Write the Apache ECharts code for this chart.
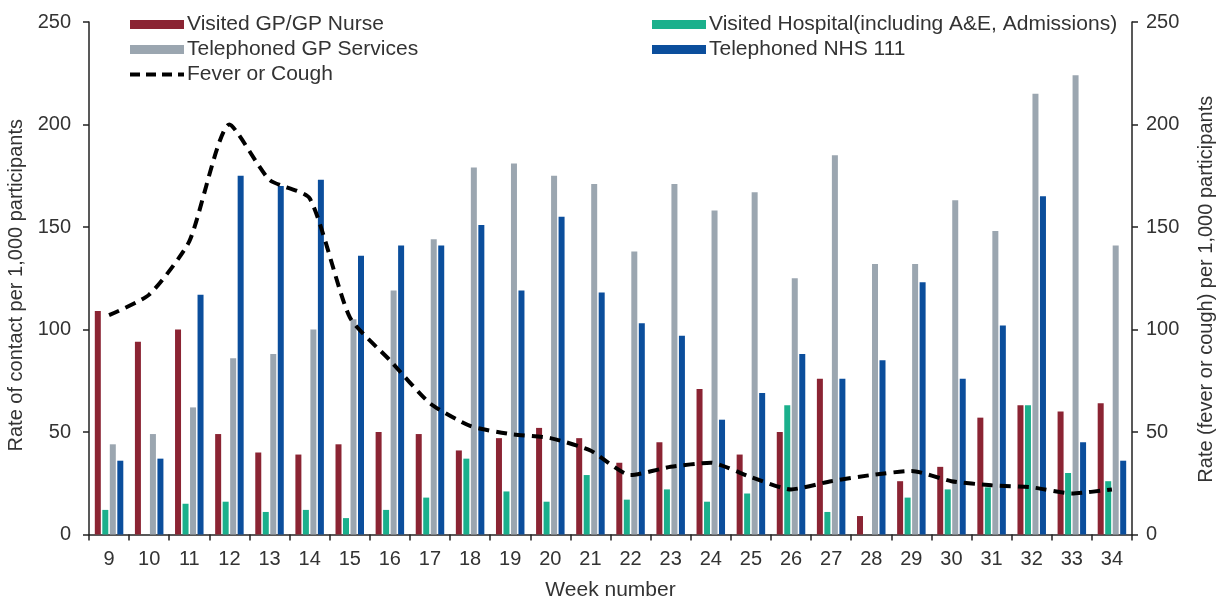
<!DOCTYPE html>
<html>
<head>
<meta charset="utf-8">
<script src="https://cdn.jsdelivr.net/npm/echarts@6/dist/echarts.min.js"></script>
<style>
  html, body { margin: 0; padding: 0; background: #fff; }
  #chart { width: 1220px; height: 598px; }
</style>
</head>
<body>
<div id="chart"></div>
<script>
// week numbers on the x axis
const weeks = ["9", "10", "11", "12", "13", "14", "15", "16", "17", "18", "19", "20", "21",
  "22", "23", "24", "25", "26", "27", "28", "29", "30", "31", "32", "33", "34"];

const visitedGP = [109, 94, 100, 49, 40, 39, 44, 50, 49, 41, 47, 52, 47,
  35, 45, 71, 39, 50, 76, 9, 26, 33, 57, 63, 60, 64];
const visitedHospital = [12, 0, 15, 16, 11, 12, 8, 12, 18, 37, 21, 16, 29,
  17, 22, 16, 20, 63, 11, 0, 18, 22, 23, 63, 30, 26];
const phonedGP = [44, 49, 62, 86, 88, 100, 105, 119, 144, 179, 181, 175, 171,
  138, 171, 158, 167, 125, 185, 132, 132, 163, 148, 215, 224, 141];
const phonedNHS111 = [36, 37, 117, 175, 170, 173, 136, 141, 141, 151, 119, 155, 118,
  103, 97, 56, 69, 88, 76, 85, 123, 76, 102, 165, 45, 36];
const feverCough = [107, 117, 143, 200, 173, 164, 106, 85, 64, 53, 49, 47, 41,
  29, 33, 35, 28, 22, 26, 29, 31, 26, 24, 23, 20, 22];

const yTicks = [0, 50, 100, 150, 200, 250];

const font = "Liberation Sans, Arial, sans-serif";
const txt = "#333";

const chart = echarts.init(document.getElementById("chart"));

function barSeries(name, data, color) {
  return {
    name: name,
    type: "bar",
    data: data,
    barWidth: 6,
    barGap: "25%",
    itemStyle: { color: color },
  };
}

function valueAxis(position, title) {
  const left = position === "left";
  return {
    type: "value",
    position: position,
    min: yTicks[0],
    max: yTicks[yTicks.length - 1],
    interval: 50,
    name: title,
    nameLocation: "middle",
    nameRotate: 90,
    nameGap: left ? 58 : 64,
    nameTextStyle: {
      color: txt, fontSize: 20, fontFamily: font,
      padding: left ? [0, 14, 0, 0] : [0, 22, 0, 0],
    },
    axisLine: { show: true, lineStyle: { color: "#222", width: 1.5 } },
    axisTick: { show: true, length: 6, lineStyle: { color: "#222", width: 1.5 } },
    axisLabel: { color: txt, fontSize: 20, fontFamily: font, margin: left ? 18 : 14 },
    splitLine: { show: false },
  };
}

const legendText = { color: txt, fontSize: 21, fontFamily: font, padding: [0, 0, 0, -2] };

chart.setOption({
  animation: false,
  backgroundColor: "#fff",
  grid: { left: 89, right: 88, top: 22, bottom: 63.5, outerBoundsMode: "none" },
  legend: [
    {
      orient: "vertical",
      left: 123,
      top: 9,
      itemWidth: 54,
      itemHeight: 9,
      itemGap: 4,
      data: [
        { name: "Visited GP/GP Nurse", icon: "rect" },
        { name: "Telephoned GP Services", icon: "rect" },
        {
          name: "Fever or Cough",
          itemStyle: { opacity: 0 },
          lineStyle: { color: "#000", width: 4, type: [10, 6] },
        },
      ],
      textStyle: legendText,
    },
    {
      orient: "vertical",
      left: 647,
      top: 9,
      itemWidth: 54,
      itemHeight: 9,
      itemGap: 4,
      data: [
        { name: "Visited Hospital(including A&E, Admissions)", icon: "rect" },
        { name: "Telephoned NHS 111", icon: "rect" },
      ],
      textStyle: legendText,
    },
  ],
  xAxis: {
    type: "category",
    data: weeks,
    name: "Week number",
    nameLocation: "middle",
    nameGap: 45,
    nameTextStyle: { color: txt, fontSize: 21, fontFamily: font },
    axisLine: { lineStyle: { color: "#222", width: 1.5 } },
    axisTick: { show: true, length: 6, lineStyle: { color: "#222", width: 1.5 } },
    axisLabel: { color: txt, fontSize: 20, fontFamily: font, margin: 15 },
  },
  yAxis: [
    valueAxis("left", "Rate of contact per 1,000 participants"),
    valueAxis("right", "Rate (fever or cough) per 1,000 participants"),
  ],
  series: [
    barSeries("Visited GP/GP Nurse", visitedGP, "#8B2433"),
    barSeries("Visited Hospital(including A&E, Admissions)", visitedHospital, "#1BB08C"),
    barSeries("Telephoned GP Services", phonedGP, "#9BA6B0"),
    barSeries("Telephoned NHS 111", phonedNHS111, "#0B4E9C"),
    {
      name: "Fever or Cough",
      type: "line",
      yAxisIndex: 1,
      data: feverCough,
      smooth: 0.2,
      symbol: "none",
      z: 5,
      itemStyle: { color: "#000" },
      lineStyle: { color: "#000", width: 4, type: [11, 7] },
    },
  ],
});
</script>
</body>
</html>
